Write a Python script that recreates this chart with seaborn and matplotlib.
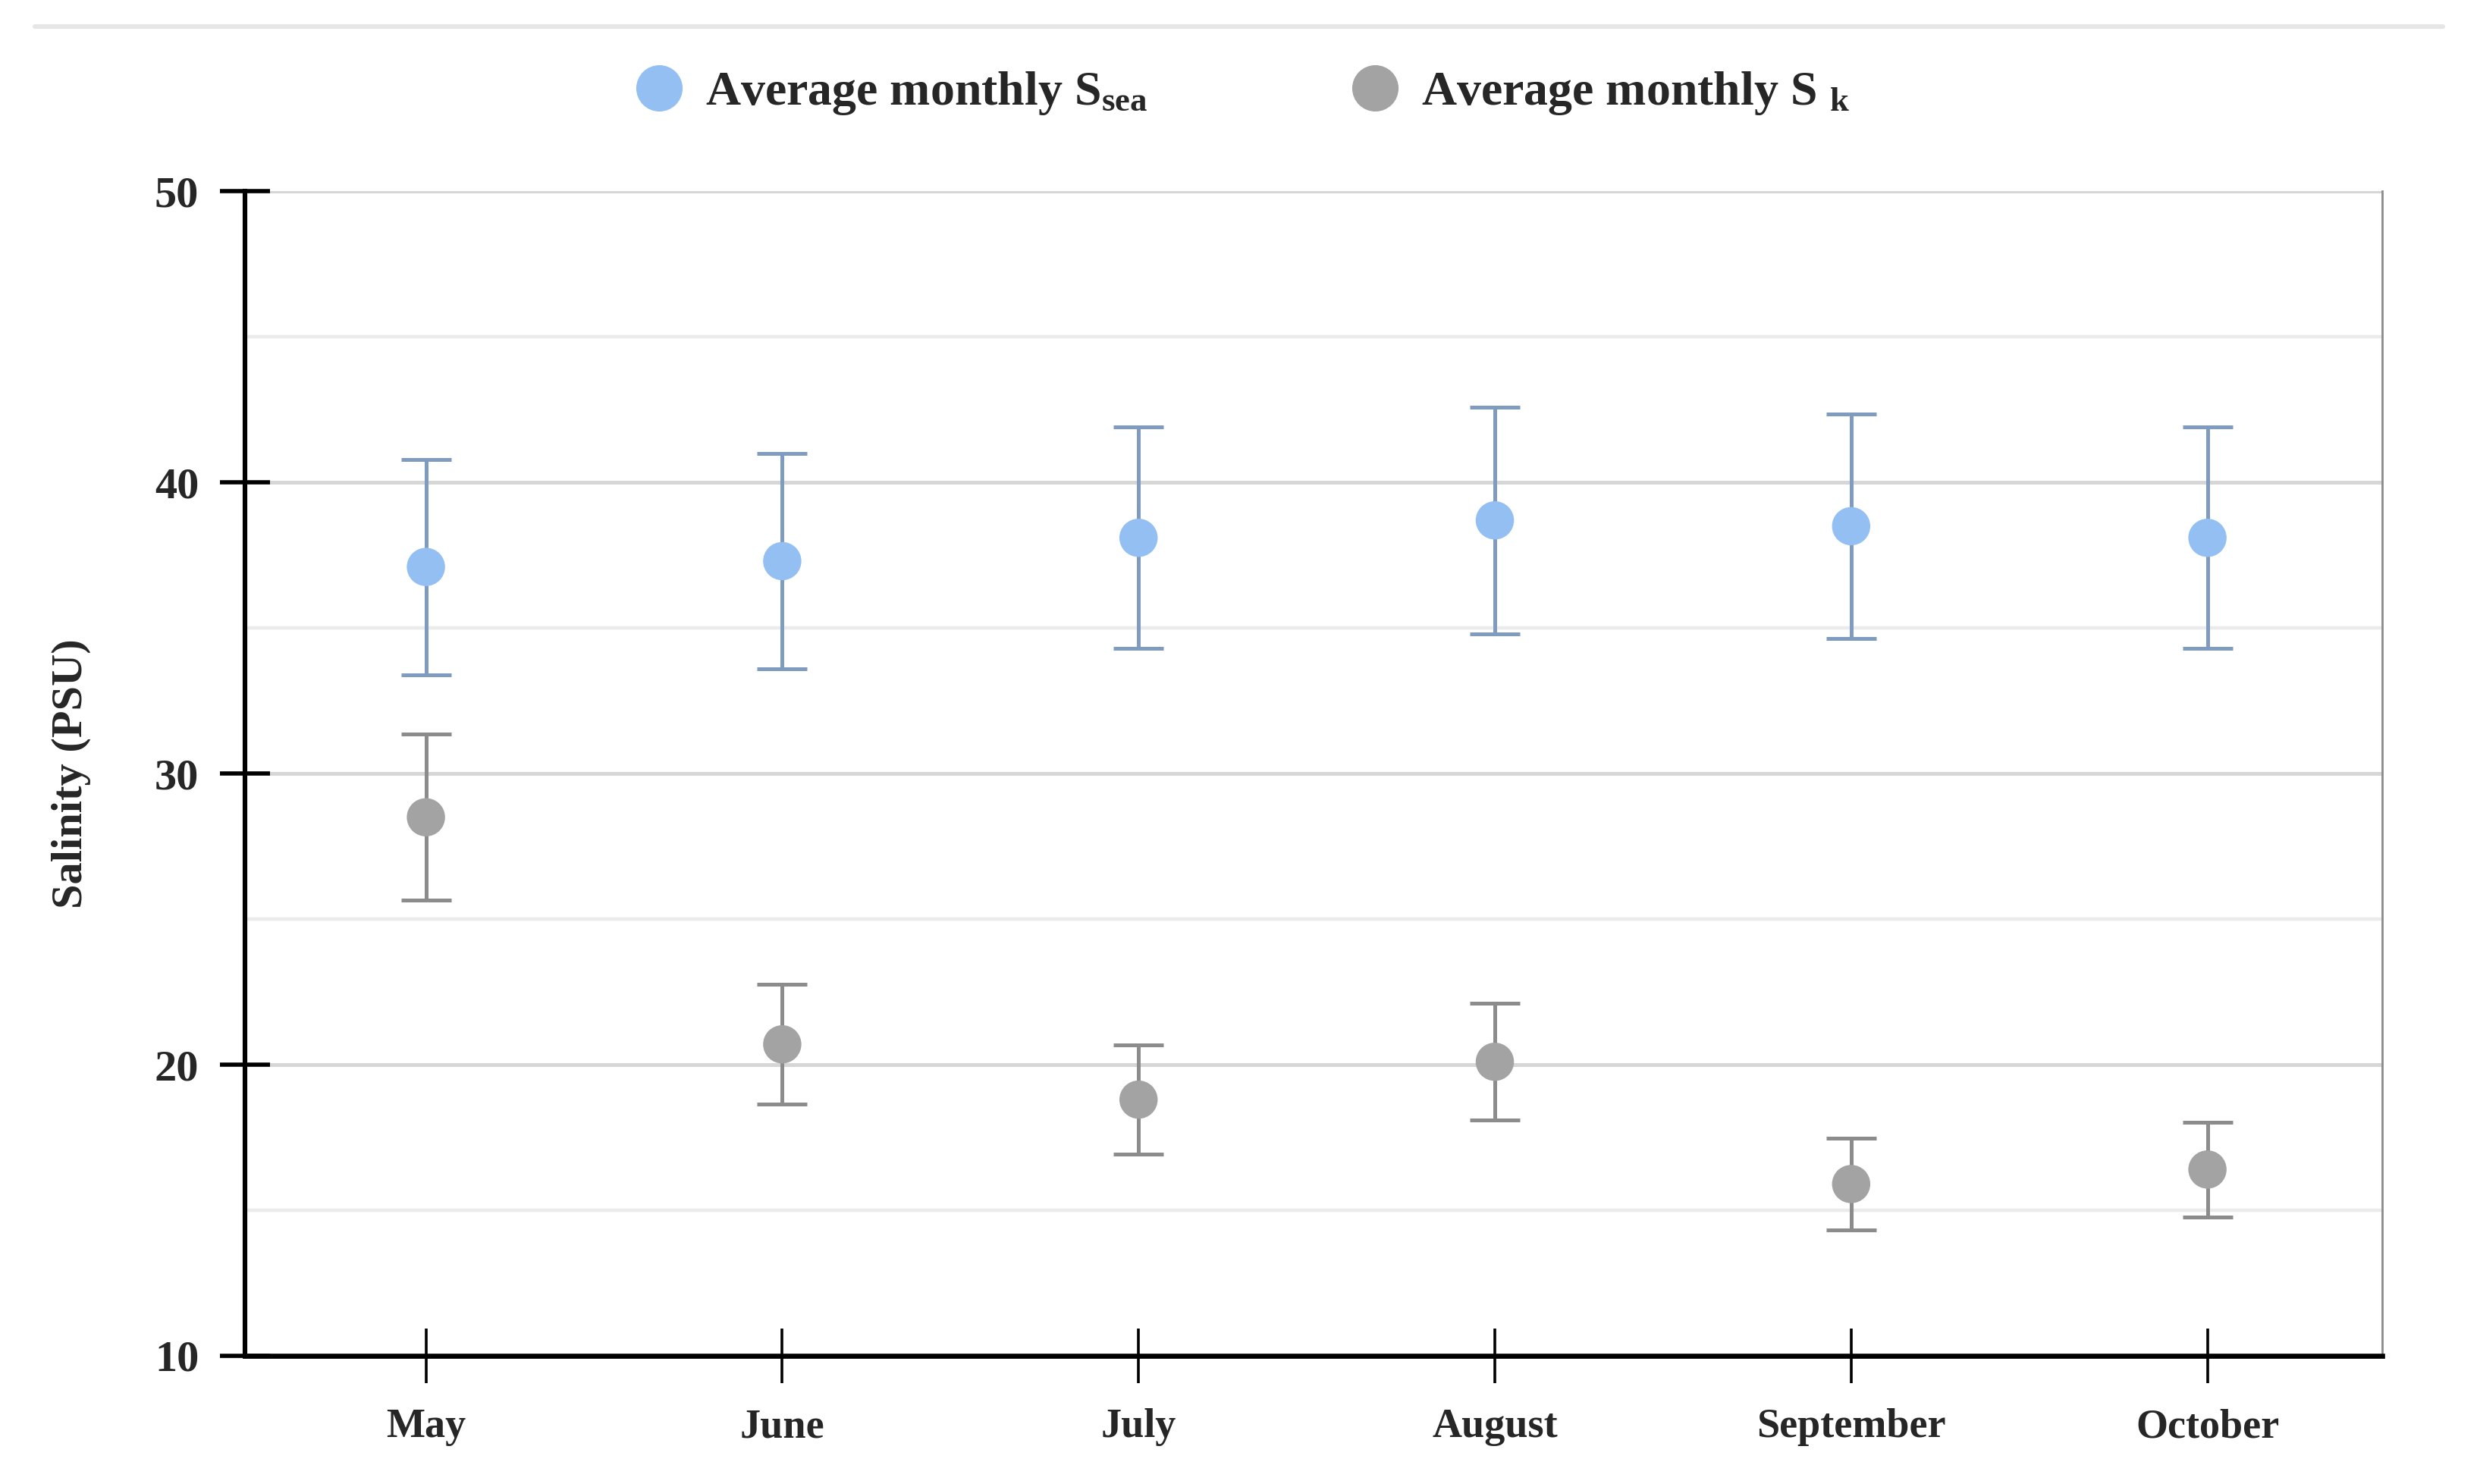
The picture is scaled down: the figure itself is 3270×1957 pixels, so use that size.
import matplotlib
matplotlib.use("Agg")
import matplotlib.pyplot as plt
import seaborn as sns
import pandas as pd
from matplotlib.lines import Line2D

months = ["May", "June", "July", "August", "September", "October"]
sea_mean = [37.1, 37.3, 38.1, 38.7, 38.5, 38.1]
sea_err = [3.7, 3.7, 3.8, 3.9, 3.85, 3.8]
sk_mean = [28.5, 20.7, 18.8, 20.1, 15.9, 16.4]
sk_err = [2.85, 2.05, 1.87, 2.0, 1.57, 1.63]
series_names = [r"Average monthly S$_{\mathbf{sea}}$", r"Average monthly S $_{\mathbf{k}}$"]

sns.set_theme(style="white")
plt.rcParams["font.family"] = ["Liberation Serif", "DejaVu Serif"]
plt.rcParams["font.weight"] = "bold"
plt.rcParams["mathtext.fontset"] = "custom"
plt.rcParams["mathtext.rm"] = "Liberation Serif:bold"
plt.rcParams["mathtext.bf"] = "Liberation Serif:bold"
plt.rcParams["mathtext.it"] = "Liberation Serif:bold"

sea_col = "#93BFF3"
sea_bar = "#7F9BBF"
sk_col = "#A3A3A3"
sk_bar = "#8C8C8C"

df = pd.DataFrame({
    "month": months * 2,
    "value": sea_mean + sk_mean,
    "err": sea_err + sk_err,
    "series": [series_names[0]] * 6 + [series_names[1]] * 6,
})

fig = plt.figure(figsize=(16.35, 9.785), dpi=200)
ax = fig.add_axes([0.0989, 0.0864, 0.8616, 0.7846])

# grid
for v in [15, 25, 35, 45]:
    ax.axhline(v, color="#ebebeb", lw=1.6, zorder=0)
for v in [20, 30, 40, 50]:
    ax.axhline(v, color="#d6d6d6", lw=1.8, zorder=0)

ax.errorbar(months, sea_mean, yerr=sea_err, fmt="none", ecolor=sea_bar,
            elinewidth=1.8, capsize=12, capthick=1.8, zorder=2)
ax.errorbar(months, sk_mean, yerr=sk_err, fmt="none", ecolor=sk_bar,
            elinewidth=1.8, capsize=12, capthick=1.8, zorder=2)

sns.scatterplot(data=df, x="month", y="value", hue="series",
                palette=[sea_col, sk_col], s=330, edgecolor="none",
                ax=ax, zorder=3, legend=False)

ax.set_xlim(-0.507, 5.49)
ax.set_ylim(10, 50)
ax.set_yticks([10, 20, 30, 40, 50])
ax.set_xlabel("")
ax.set_ylabel("Salinity (PSU)", fontsize=21, fontweight="bold", labelpad=30)

ax.tick_params(axis="x", bottom=True, direction="inout", length=26, width=1.3,
               color="black", labelsize=19.5, pad=12)
ax.tick_params(axis="y", left=True, direction="inout", length=24, width=2.0,
               color="black", labelsize=21, pad=10)
for lab in ax.get_xticklabels() + ax.get_yticklabels():
    lab.set_fontweight("bold")

ax.spines["top"].set_visible(False)
ax.spines["left"].set_color("black")
ax.spines["left"].set_linewidth(2.2)
ax.spines["bottom"].set_color("black")
ax.spines["bottom"].set_linewidth(2.4)
ax.spines["right"].set_color("#8a8a8a")
ax.spines["right"].set_linewidth(1.0)

handles = [
    Line2D([], [], marker="o", linestyle="none", markersize=22,
           markerfacecolor=sea_col, markeredgecolor="none"),
    Line2D([], [], marker="o", linestyle="none", markersize=22,
           markerfacecolor=sk_col, markeredgecolor="none"),
]
fig.legend(handles, series_names, loc="center", bbox_to_anchor=(0.5, 0.937),
           ncol=2, frameon=False, handletextpad=0.35, handlelength=1.2,
           columnspacing=4.1, prop={"weight": "bold", "size": 23})

fig.add_artist(Line2D([0.014, 0.985], [0.982, 0.982], color="#e6e6e6", lw=2.2,
                      transform=fig.transFigure))

fig.savefig("out.png", dpi=200, facecolor="white")
